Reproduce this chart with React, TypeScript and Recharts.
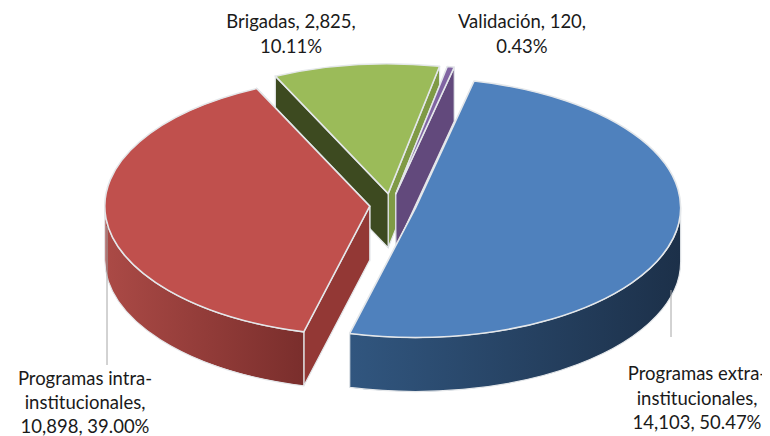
import React from 'react';
import { PieChart, Pie } from 'recharts';

const categories = ['Brigadas', 'Validación', 'Programas extra-institucionales', 'Programas intra-institucionales'];
const seriesValues = [2825, 120, 14103, 10898];
const labelLines = [
  ['Brigadas, 2,825,', '10.11%'],
  ['Validación, 120,', '0.43%'],
  ['Programas extra-', 'institucionales,', '14,103, 50.47%'],
  ['Programas intra-', 'institucionales,', '10,898, 39.00%'],
];

const data = categories.map((name, i) => ({ name, value: seriesValues[i] }));

const tilt = 0.49;
const explode = 0.088;
const depth = 54;
const edge = '#e4e7ea';

// colours per slice: top face, first cut face, second cut face, rim gradient left to right
const faces = [
  { top: '#9bbb59', cutA: '#3d4a20', cutB: '#7f9a45', rim: ['#7f9a45', '#7f9a45'] },
  { top: '#8064a2', cutA: '#62497c', cutB: '#62497c', rim: ['#62497c', '#62497c'] },
  { top: '#4f81bd', cutA: '#2f5480', cutB: '#2f5480', rim: ['#31567f', '#1c3049'] },
  { top: '#c0504d', cutA: '#933835', cutB: '#933835', rim: ['#ab4a46', '#7a2e2c'] },
];

// small sideways correction for the perspective of the original
const nudge = [-2, -2, 0, 0];

const labelSpots = [
  { x: 291, y: 28, step: 25 },
  { x: 522, y: 28, step: 25 },
  { x: 697, y: 380, step: 24.5 },
  { x: 85, y: 385, step: 24 },
];
const leaders = [null, null, { x: 671, y1: 290, y2: 337 }, { x: 107, y1: 226, y2: 365 }];

const rad = (a: number) => (a * Math.PI) / 180;

const Slice3D = (props: any) => {
  const { cx, cy, outerRadius: r, startAngle, endAngle, index } = props;
  const f = faces[index];
  const mid = (startAngle + endAngle) / 2;
  const ox = cx + nudge[index] + explode * r * Math.cos(rad(mid));
  const oy = cy - explode * r * tilt * Math.sin(rad(mid));
  const ry = r * tilt;
  const pt = (a: number) => [ox + r * Math.cos(rad(a)), oy - ry * Math.sin(rad(a))];
  const [x1, y1] = pt(startAngle);
  const [x2, y2] = pt(endAngle);
  const large = Math.abs(startAngle - endAngle) > 180 ? 1 : 0;
  const top = `M${ox},${oy} L${x1},${y1} A${r},${ry} 0 ${large} 1 ${x2},${y2} Z`;
  const cut = (x: number, y: number) =>
    `M${ox},${oy} L${x},${y} L${x},${y + depth} L${ox},${oy + depth} Z`;
  const faceA = <path d={cut(x1, y1)} fill={f.cutA} stroke={edge} strokeWidth={1.2} />;
  const faceB = <path d={cut(x2, y2)} fill={f.cutB} stroke={edge} strokeWidth={1.2} />;

  // only the front part of the rim shows, angles between 0 and -180
  const from = Math.min(startAngle, 0);
  const to = Math.max(endAngle, -180);
  let rim = null;
  if (from > to) {
    const [p1x, p1y] = pt(from);
    const [p2x, p2y] = pt(to);
    rim =
      `M${p1x},${p1y} A${r},${ry} 0 0 1 ${p2x},${p2y} ` +
      `L${p2x},${p2y + depth} A${r},${ry} 0 0 0 ${p1x},${p1y + depth} Z`;
  }
  const gradId = `rim-${index}`;
  return (
    <g>
      <defs>
        <linearGradient id={gradId} x1="0" x2="1" y1="0" y2="0">
          <stop offset="0%" stopColor={f.rim[0]} />
          <stop offset="100%" stopColor={f.rim[1]} />
        </linearGradient>
      </defs>
      {/* the sliver shows its second cut, the others their first */}
      {index === 1 ? faceA : faceB}
      {index === 1 ? faceB : faceA}
      {rim && <path d={rim} fill={`url(#${gradId})`} stroke={edge} strokeWidth={1.2} />}
      <path d={top} fill={f.top} stroke={edge} strokeWidth={1.6} strokeLinejoin="round" />
    </g>
  );
};

const renderLabel = ({ index }: any) => {
  const spot = labelSpots[index];
  const leader = leaders[index];
  return (
    <g key={index}>
      {leader && <line x1={leader.x} x2={leader.x} y1={leader.y1} y2={leader.y2} stroke="#a6a6a6" />}
      <text textAnchor="middle" fontFamily="Lato" fontSize={18.5} fill="#1a1a1a">
        {labelLines[index].map((line, i) => (
          <tspan key={i} x={spot.x} y={spot.y + i * spot.step}>{line}</tspan>
        ))}
      </text>
    </g>
  );
};

export default function App() {
  return (
    <div style={{ marginLeft: -8, marginTop: -8, width: 770, height: 436 }}>
      <PieChart width={770} height={436} margin={{ top: 0, right: 0, bottom: 0, left: 0 }}>
        <Pie
          data={data}
          dataKey="value"
          nameKey="name"
          cx={393}
          cy={205}
          outerRadius={265}
          startAngle={115.2}
          endAngle={-244.8}
          stroke="none"
          shape={Slice3D}
          label={renderLabel}
          labelLine={false}
          isAnimationActive={false}
        />
      </PieChart>
    </div>
  );
}
